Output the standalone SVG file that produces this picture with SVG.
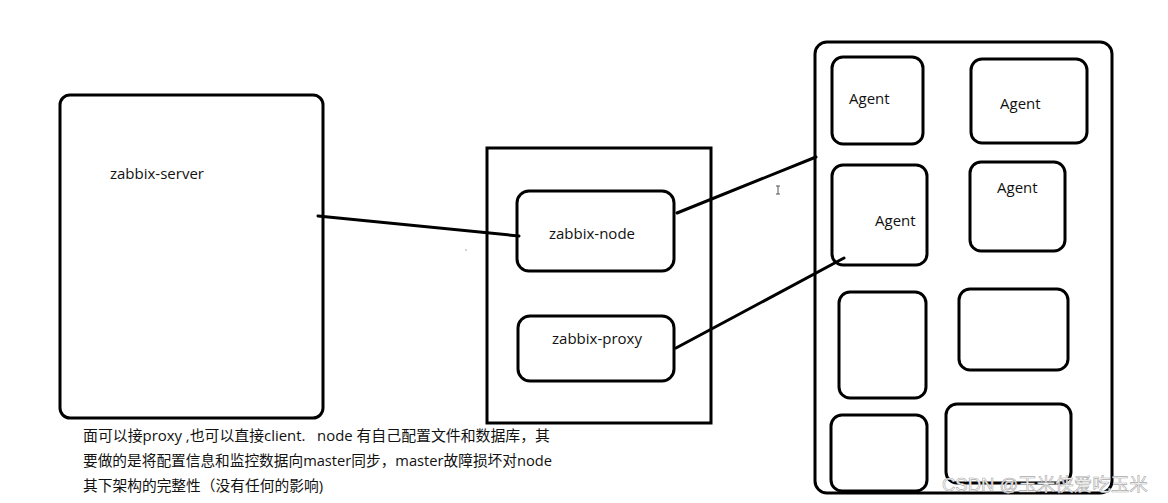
<svg xmlns="http://www.w3.org/2000/svg" width="1168" height="503" viewBox="0 0 1168 503">
<style>
.box{fill:#fff;stroke:#000;stroke-width:3}
.ln{stroke:#000;stroke-width:3;fill:none;stroke-linecap:round}
.t{font-family:"Open Sans","Noto Sans","Noto Sans CJK SC",sans-serif;font-size:15px;fill:#111}
.c{font-family:"Open Sans","Noto Sans CJK SC",sans-serif;font-size:14.5px;fill:#111;white-space:pre}
.wm{font-family:"Liberation Sans","Noto Sans CJK SC",sans-serif;font-size:18.5px;fill:#fff;stroke:#aaa;stroke-width:0.6}
</style>
<rect width="1168" height="503" fill="#fff"/>
<g id="server"><rect class="box" x="60" y="95" width="263" height="323" rx="10"/><text class="t" x="110" y="179">zabbix-server</text></g>
<g id="middle"><rect class="box" x="487" y="148" width="224" height="275"/></g>
<g id="node"><rect class="box" x="517" y="191" width="157" height="80" rx="12"/><text class="t" x="592" y="239" text-anchor="middle">zabbix-node</text></g>
<g id="proxy"><rect class="box" x="518" y="316" width="156" height="65" rx="12"/><text class="t" x="597" y="344" text-anchor="middle">zabbix-proxy</text></g>
<g id="agents-group"><rect class="box" x="815" y="42" width="297" height="451" rx="12"/></g>
<g id="agent1"><rect class="box" x="832" y="57" width="91" height="87" rx="11"/><text class="t" x="849" y="104">Agent</text></g>
<g id="agent2"><rect class="box" x="971" y="59" width="116" height="84" rx="11"/><text class="t" x="1000" y="109">Agent</text></g>
<g id="agent3"><rect class="box" x="832" y="165" width="95" height="100" rx="11"/><text class="t" x="875" y="226">Agent</text></g>
<g id="agent4"><rect class="box" x="970" y="162" width="95" height="89" rx="11"/><text class="t" x="997" y="193">Agent</text></g>
<g id="box5"><rect class="box" x="839" y="292" width="87" height="106" rx="11"/></g>
<g id="box6"><rect class="box" x="959" y="289" width="109" height="81" rx="11"/></g>
<g id="box7"><rect class="box" x="831" y="415" width="96" height="76" rx="11"/></g>
<g id="box8"><rect class="box" x="946" y="404" width="125" height="79" rx="11"/></g>
<g id="connectors">
<line class="ln" x1="318" y1="216" x2="519" y2="236"/>
<line class="ln" x1="677" y1="213" x2="816" y2="157"/>
<line class="ln" x1="676" y1="348" x2="844" y2="258"/>
</g>
<g id="cursor" stroke="#555" stroke-width="1" fill="none"><path d="M776 186h4M778 186v8M776 194h4"/></g>
<circle cx="466" cy="250" r="0.7" fill="#888"/>
<g id="note">
<text class="c" x="83" y="441" textLength="467" lengthAdjust="spacingAndGlyphs" xml:space="preserve">面可以接proxy ,也可以直接client.   node 有自己配置文件和数据库，其</text>
<text class="c" x="83" y="466" textLength="469" lengthAdjust="spacingAndGlyphs">要做的是将配置信息和监控数据向master同步，master故障损坏对node</text>
<text class="c" x="83" y="491" textLength="240" lengthAdjust="spacingAndGlyphs">其下架构的完整性（没有任何的影响)</text>
</g>
<text class="wm" x="942" y="491">CSDN @玉米侠爱吃玉米</text>
</svg>
